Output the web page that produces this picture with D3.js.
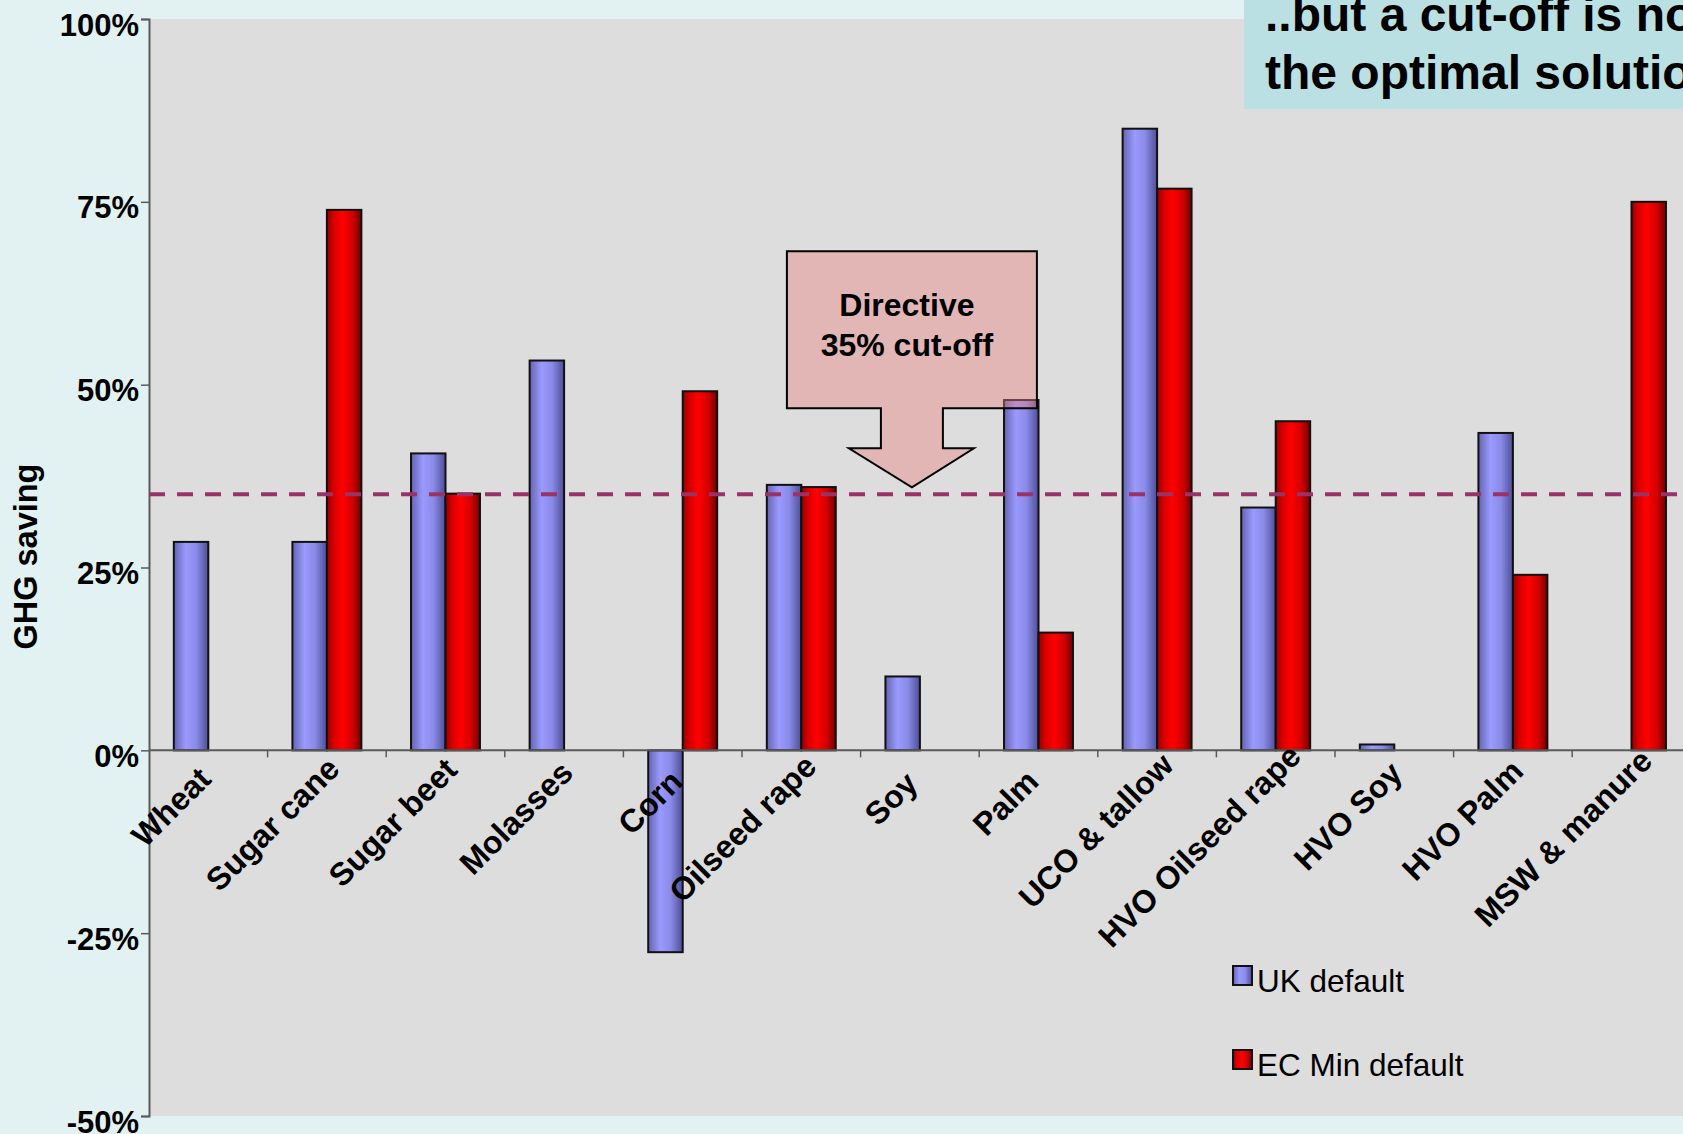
<!DOCTYPE html>
<html>
<head>
<meta charset="utf-8">
<script src="https://cdn.jsdelivr.net/npm/d3@7/dist/d3.min.js"></script>
<style>
  html, body { margin: 0; padding: 0; background: #e2f2f2; overflow: hidden; }
  svg { display: block; font-family: "Liberation Sans", Arial, sans-serif; }
</style>
</head>
<body>
<svg id="chart" width="1683" height="1134"></svg>
<script>
// GHG savings by feedstock: UK default values vs EC minimum defaults
const categories = ["Wheat", "Sugar cane", "Sugar beet", "Molasses", "Corn", "Oilseed rape",
  "Soy", "Palm", "UCO & tallow", "HVO Oilseed rape", "HVO Soy", "HVO Palm", "MSW & manure"];
const ukDefault    = [28.5, 28.5, 40.6, 53.3, -27.6, 36.3, 10.1, 47.9, 85.0, 33.2, 0.8, 43.4, null];
const ecMinDefault = [null, 73.9, 35.1, null, 49.1, 36.0, null, 16.1, 76.8, 45.0, null, 24.0, 75.0];
const seriesNames  = ["UK default", "EC Min default"];
const yTicks       = [-50, -25, 0, 25, 50, 75, 100];
const cutOff       = 35;
const calloutLines = ["Directive", "35% cut-off"];
const titleLines   = ["..but a cut-off is not", "the optimal solution"];

const W = 1683, H = 1134;
const plot = { left: 149, top: 19, bottom: 1116, step: 118.6 };

const svg = d3.select("#chart");

// gradients for the cylinder-like bar shading
const defs = svg.append("defs");
function hGrad(id, stops) {
  const g = defs.append("linearGradient").attr("id", id)
    .attr("x1", "0%").attr("x2", "100%").attr("y1", "0%").attr("y2", "0%");
  stops.forEach(([o, c]) => g.append("stop").attr("offset", o).attr("stop-color", c));
}
hGrad("gBlue", [["0%", "#6464b0"], ["35%", "#9a9aff"], ["65%", "#8a8ae8"], ["100%", "#4e4e98"]]);
hGrad("gRed",  [["0%", "#900000"], ["20%", "#d80000"], ["45%", "#ff0000"], ["75%", "#d00000"], ["100%", "#6e0000"]]);
const fills = { "UK default": "url(#gBlue)", "EC Min default": "url(#gRed)" };

// scales
const x0 = d3.scaleBand().domain(categories)
  .range([plot.left, plot.left + categories.length * plot.step]).padding(0);
const x1 = d3.scaleBand().domain(seriesNames)
  .range([0, x0.bandwidth()]).paddingInner(0).paddingOuter(0.72);
const y = d3.scaleLinear().domain([-50, 100]).range([plot.bottom, plot.top]);

// plot area
svg.append("rect")
  .attr("x", plot.left).attr("y", plot.top)
  .attr("width", W - plot.left + 20).attr("height", plot.bottom - plot.top)
  .attr("fill", "#dddddd");

// bars
const rows = categories.map((c, i) => ({
  cat: c,
  vals: [
    { s: "UK default", v: ukDefault[i] },
    { s: "EC Min default", v: ecMinDefault[i] }
  ].filter(d => d.v !== null)
}));

const groups = svg.append("g").selectAll("g").data(rows).join("g")
  .attr("transform", d => `translate(${x0(d.cat)},0)`);

groups.selectAll("rect").data(d => d.vals).join("rect")
  .attr("x", d => x1(d.s))
  .attr("width", x1.bandwidth())
  .attr("y", d => y(Math.max(0, d.v)))
  .attr("height", d => Math.abs(y(d.v) - y(0)))
  .attr("fill", d => fills[d.s])
  .attr("stroke", "#111")
  .attr("stroke-width", 2);

// category axis along zero
const axisY = y(0);
svg.append("line")
  .attr("x1", plot.left).attr("x2", W + 10)
  .attr("y1", axisY).attr("y2", axisY)
  .attr("stroke", "#5a5a5a").attr("stroke-width", 2);
svg.append("g").selectAll("line")
  .data(categories)
  .join("line")
  .attr("x1", d => x0(d) + x0.step())
  .attr("x2", d => x0(d) + x0.step())
  .attr("y1", axisY).attr("y2", axisY + 7)
  .attr("stroke", "#5a5a5a").attr("stroke-width", 1.5);

// value axis
const yAxis = svg.append("g")
  .attr("transform", `translate(${plot.left},0)`)
  .call(d3.axisLeft(y).tickValues(yTicks).tickSize(8).tickPadding(2).tickFormat(d => d + "%"));
yAxis.select(".domain").attr("stroke", "#5a5a5a").attr("stroke-width", 2);
yAxis.selectAll(".tick line").attr("stroke", "#5a5a5a").attr("stroke-width", 1.5);
yAxis.selectAll(".tick text")
  .attr("dy", "0.52em")
  .attr("fill", "#000")
  .style("font-family", "'Liberation Sans', Arial, sans-serif")
  .style("font-size", "31px")
  .style("font-weight", "bold");

// axis title
svg.append("text")
  .attr("transform", `translate(37,${y(26.5)}) rotate(-90)`)
  .attr("text-anchor", "middle")
  .style("font-size", "32.5px").style("font-weight", "bold")
  .text("GHG saving");

// rotated category labels
const labels = svg.append("g").selectAll("text").data(categories).join("text")
  .attr("text-anchor", "end")
  .style("font-size", "32px").style("font-weight", "bold")
  .text(d => d);
labels.each(function (d) {
  const L = this.getComputedTextLength();
  const cx = x0(d) + x0.bandwidth() / 2;
  const bx = cx - 8 + 0.13 * L;
  const by = axisY + 43 - 0.13 * L;
  d3.select(this).attr("transform", `translate(${bx},${by}) rotate(-45)`);
});

// cut-off line
svg.append("line")
  .attr("x1", plot.left).attr("x2", W + 10)
  .attr("y1", y(cutOff)).attr("y2", y(cutOff))
  .attr("stroke", "#993366").attr("stroke-width", 4)
  .attr("stroke-dasharray", "16,12");

// callout arrow pointing at the cut-off line
const tipX = x0("Soy") + x0.bandwidth() / 2 - 8;
const tipY = y(cutOff) - 7;
const arrow = [
  [-125, -236], [125, -236], [125, -79], [31, -79], [31, -39], [62, -39],
  [0, 0], [-63, -39], [-31, -39], [-31, -79], [-125, -79]
].map(([dx, dy]) => [tipX + dx, tipY + dy]);
svg.append("path")
  .attr("d", d3.line()(arrow) + "Z")
  .attr("fill", "rgb(236,128,128)").attr("fill-opacity", 0.42)
  .attr("stroke", "#000").attr("stroke-width", 2);
svg.append("g").selectAll("text").data(calloutLines).join("text")
  .attr("x", tipX - 5).attr("y", (d, i) => tipY - 171 + i * 40)
  .attr("text-anchor", "middle")
  .style("font-size", "32px").style("font-weight", "bold")
  .text(d => d);

// legend
const legend = svg.append("g").selectAll("g").data(seriesNames).join("g")
  .attr("transform", (d, i) => `translate(1233,${966 + i * 84})`);
legend.append("rect")
  .attr("width", 19).attr("height", 19)
  .attr("fill", d => fills[d]).attr("stroke", "#111").attr("stroke-width", 2);
legend.append("text")
  .attr("x", 24).attr("y", 26)
  .style("font-size", "31.5px")
  .text(d => d);

// headline box
svg.append("rect")
  .attr("x", 1244).attr("y", -10).attr("width", 500).attr("height", 119)
  .attr("fill", "#bbe0e3");
svg.append("g").selectAll("text").data(titleLines).join("text")
  .attr("x", 1265).attr("y", (d, i) => 31 + i * 58)
  .style("font-size", "48px").style("font-weight", "bold")
  .text(d => d);
</script>
</body>
</html>
